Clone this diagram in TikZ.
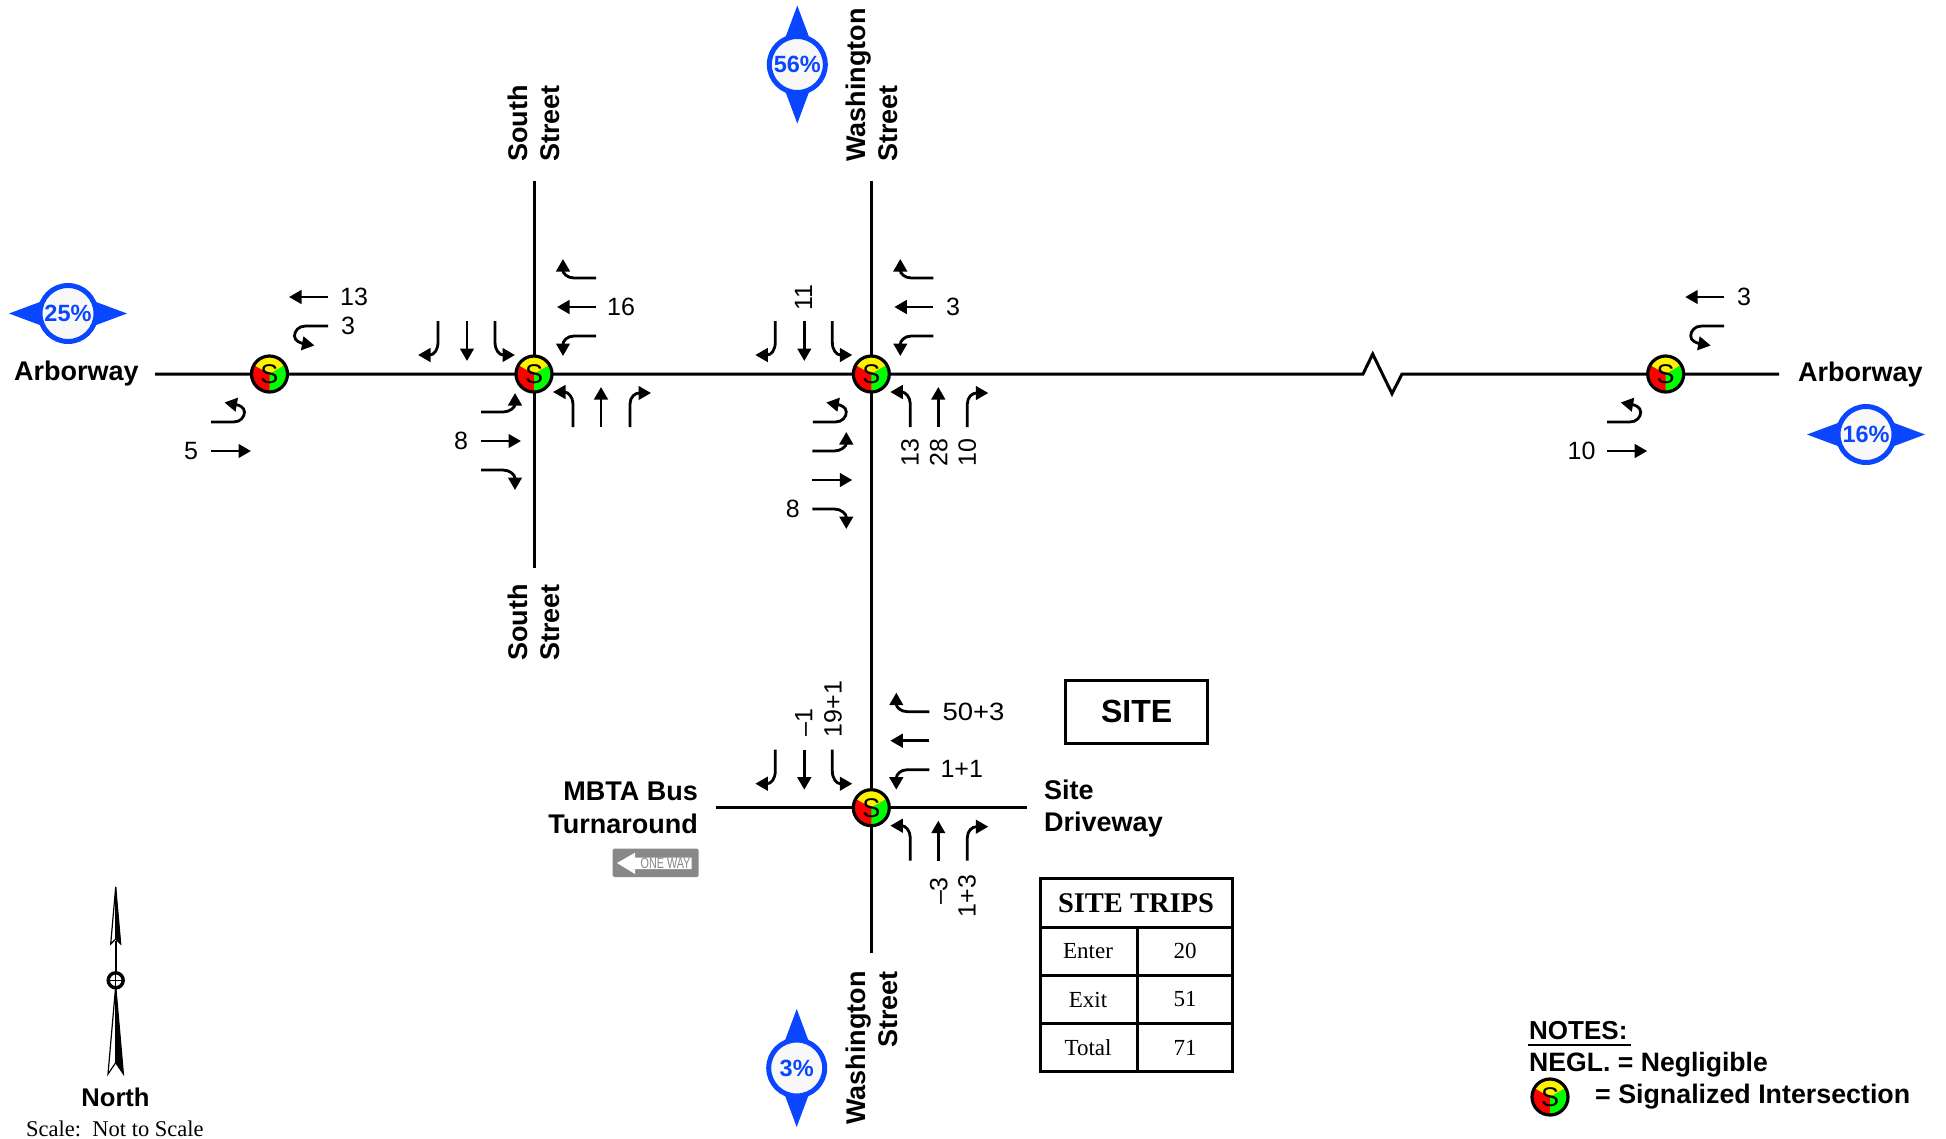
\documentclass[tikz,border=0pt]{standalone}
\usepackage{fontspec}
\setmainfont{Liberation Sans}
\newfontfamily\tmsfont{Liberation Serif}
\usetikzlibrary{arrows.meta}
\definecolor{pctblue}{HTML}{0A46FF}
\definecolor{pctfill}{HTML}{F8F8F8}
\definecolor{signgrey}{HTML}{888888}
\newcommand{\fsz}[1]{\fontsize{#1}{#1}\selectfont}
\tikzset{
  road/.style={line width=3pt,black},
  mv/.style={line width=2.8pt,black,-{Triangle[length=12.5pt,width=13.5pt]}},
  num/.style={inner sep=0pt,font=\fsz{25}},
  numv/.style={num,rotate=90},
  lbl/.style={inner sep=0pt,font=\fsz{27}\bfseries,anchor=base west},
  lblr/.style={inner sep=0pt,font=\fsz{27}\bfseries,anchor=base east},
  lblv/.style={inner sep=0pt,font=\fsz{27}\bfseries,anchor=base west,rotate=90},
  lblve/.style={inner sep=0pt,font=\fsz{27}\bfseries,anchor=base east,rotate=90},
  pct/.style={inner sep=0pt,font=\fsz{23.5}\bfseries,text=pctblue},
  cell/.style={inner sep=0pt,font=\tmsfont\fsz{23}},
  tline/.style={line width=3pt,black},
}
% turning-movement arrows, relative to the current scope origin
\newcommand{\eastApp}{%
  \draw[mv] (62,-96) -- (40,-96) .. controls (33,-96) and (29,-101) .. (29,-115);
  \draw[mv] (62,-67) -- (23,-67);
  \draw[mv] (62,-38) -- (40,-38) .. controls (33,-38) and (29,-33) .. (29,-18);}
\newcommand{\northApp}{%
  \draw[mv] (-96,-53) -- (-96,-32) .. controls (-96,-24) and (-100,-19) .. (-116,-19);
  \draw[mv] (-67,-53) -- (-67,-13);
  \draw[mv] (-39,-53) -- (-39,-32) .. controls (-39,-24) and (-35,-19) .. (-19,-19);}
\newcommand{\southApp}{%
  \draw[mv] (39,53) -- (39,30) .. controls (39,23) and (34,18) .. (19,18);
  \draw[mv] (67,53) -- (67,13);
  \draw[mv] (96,53) -- (96,30) .. controls (96,23) and (101,19) .. (117,19);}
\newcommand{\westApp}{%
  \draw[mv] (-53,38) -- (-31,38) .. controls (-24,38) and (-19,33) .. (-19,19);
  \draw[mv] (-53,67) -- (-13,67);
  \draw[mv] (-53,96) -- (-31,96) .. controls (-24,96) and (-19,101) .. (-19,116);}
\newcommand{\eastU}{%
  \draw[mv] (58.5,-48) -- (36,-48) .. controls (29,-48) and (25,-43) .. (25,-38) .. controls (25,-33) and (31,-31) .. (45,-28.5);}
\newcommand{\westU}{%
  \draw[mv] (-58.5,48) -- (-36,48) .. controls (-29,48) and (-25,43) .. (-25,38) .. controls (-25,33) and (-31,31) .. (-45,28.5);}
% signal symbol
\newcommand{\signal}[3]{%
  \begin{scope}[shift={(#2,#3)}]
    \begin{scope}
      \clip (0,0) circle (18);
      \fill[red] (-20,-20) rectangle (20,20);
      \fill[yellow] (0,0) -- (30,-17.3) -- (30,-30) -- (-30,-30) -- (-30,-17.3) -- cycle;
      \fill[green] (0,0) -- (30,-17.3) -- (30,30) -- (0,30) -- cycle;
    \end{scope}
    \draw[line width=3.2pt] (0,0) circle (18);
    \node[inner sep=0pt,font=\fsz{27}] (#1) at (0,0) {S};
  \end{scope}}
% percent roundel; #4 = 0 for left/right points, 90 for up/down points
\newcommand{\roundel}[5]{%
  \begin{scope}[shift={(#2,#3)},rotate=#4]
    \fill[pctblue] (-59,0) -- (0,-22) -- (59,0) -- (0,22) -- cycle;
  \end{scope}
  \filldraw[fill=pctfill,draw=pctblue,line width=5pt] (#2,#3) circle (28);
  \node[pct] (#1) at (#2,#3) {#5};}
\begin{document}
\begin{tikzpicture}[x=1pt,y=-1pt]
\useasboundingbox (0,0) rectangle (1946,1138);
\begin{scope}[yshift=-1pt]
% junctions and road ends
\coordinate (J1) at (269.5,373);
\coordinate (J2) at (534,373);
\coordinate (J3) at (871.3,373);
\coordinate (J4) at (1665.7,373);
\coordinate (J5) at (871.3,806.7);
\coordinate (AW) at (155,373);
\coordinate (AE) at (1779,373);
\coordinate (BA) at (1363,373);
\coordinate (BB) at (1372.7,353);
\coordinate (BC) at (1392,392.7);
\coordinate (BD) at (1402,373);
\coordinate (SSN) at (534,180);
\coordinate (SSS) at (534,567);
\coordinate (WSN) at (871.3,180);
\coordinate (WSS) at (871.3,952);
\coordinate (MB) at (716,806.7);
\coordinate (SD) at (1027,806.7);
% roads
\draw[road] (AW) -- (J1) -- (J2) -- (J3) -- (BA) -- (BB) -- (BC) -- (BD) -- (J4) -- (AE);
\draw[road] (SSN) -- (J2) -- (SSS);
\draw[road] (WSN) -- (J3) -- (J5) -- (WSS);
\draw[road] (MB) -- (J5) -- (SD);
% signals
\signal{s1}{269.5}{373}
\signal{s2}{534}{373}
\signal{s3}{871.3}{373}
\signal{s4}{1665.7}{373}
\signal{s5}{871.3}{806.7}
\signal{s6}{1550}{1096}
% movements
\begin{scope}[shift={(269.5,373)}]
  \draw[mv] (58.5,-77) -- (19.5,-77);
  \eastU \westU
  \draw[mv] (-58.5,77) -- (-18.5,77);
\end{scope}
\begin{scope}[shift={(534,373)}]
  \eastApp \northApp \southApp \westApp
\end{scope}
\begin{scope}[shift={(871.3,373)}]
  \eastApp \northApp \southApp \westU
\end{scope}
\begin{scope}[shift={(865.3,412)}]
  \westApp
\end{scope}
\begin{scope}[shift={(1665.7,373)}]
  \draw[mv] (58.5,-77) -- (19.5,-77);
  \eastU \westU
  \draw[mv] (-58.5,77) -- (-18.5,77);
\end{scope}
\begin{scope}[shift={(867.3,806.7)}]
  \eastApp
\end{scope}
\begin{scope}[shift={(871.3,801.7)}]
  \northApp
\end{scope}
\begin{scope}[shift={(871.3,806.7)}]
  \southApp
\end{scope}
% volumes
\node[num] (n13a) at (354,295.7) {13};
\node[num] (n3a) at (348,325) {3};
\node[num] (n5) at (191,450) {5};
\node[num] (n16) at (621,305.7) {16};
\node[num] (n8a) at (461,440) {8};
\node[numv] (n11) at (803.6,297) {11};
\node[num] (n3b) at (953,305.7) {3};
\node[numv] (n13b) at (910,451.7) {13};
\node[numv] (n28) at (938.7,451.7) {28};
\node[numv] (n10a) at (967.3,451.7) {10};
\node[num] (n8b) at (792.7,507.7) {8};
\node[num] (n3c) at (1744,295.7) {3};
\node[num] (n10b) at (1581.5,450) {10};
\node[num,xscale=1.1] (n53) at (973.5,710.7) {50+3};
\node[num] (n11b) at (961.7,768) {1+1};
\node[numv] (nm1) at (803.7,721.7) {–1};
\node[numv] (n191) at (833,708) {19+1};
\node[numv] (nm3) at (938.7,890) {–3};
\node[numv] (n13c) at (967,895) {1+3};
% street names
\node[lbl] (aw1) at (14,379) {Arborway};
\node[lbl] (aw2) at (1798,380) {Arborway};
\node[lblv] (ss1) at (527.5,161) {South};
\node[lblv] (ss2) at (559.5,161) {Street};
\node[lblv] (ss3) at (527.5,660) {South};
\node[lblv] (ss4) at (559.5,660) {Street};
\node[lblv] (ws1) at (865,161) {Washington};
\node[lblv] (ws2) at (897,161) {Street};
\node[lblve] (ws3) at (865,970) {Washington};
\node[lblve] (ws4) at (897,970) {Street};
\node[lblr] (mb1) at (698,799) {MBTA Bus};
\node[lblr] (mb2) at (698,832) {Turnaround};
\node[lbl] (sd1) at (1044,798.5) {Site};
\node[lbl] (sd2) at (1044,830.5) {Driveway};
% percent roundels
\roundel{p25}{68}{312.5}{0}{25\%}
\roundel{p16}{1866}{433.5}{0}{16\%}
\roundel{p56}{797.3}{63.5}{90}{56\%}
\roundel{p3}{796.7}{1067}{90}{3\%}
% site box
\node[draw,line width=3pt,minimum width=141.5pt,minimum height=63pt,inner sep=0pt,font=\fsz{32}\bfseries] (site) at (1136.7,710.5) {SITE};
% one-way sign
\fill[signgrey,rounded corners=1.5pt] (612.7,847.7) rectangle (698.7,876);
\fill[white] (617,862) -- (635,851.7) -- (635,856.7) -- (691.7,856.7) -- (691.7,868) -- (635,868) -- (635,873) -- cycle;
\node[inner sep=0pt,font=\fsz{15},text=signgrey,xscale=0.72] (oneway) at (665.5,862.3) {ONE WAY};
% table
\draw[tline] (1040,877) rectangle (1232,1070);
\draw[tline] (1040,926) -- (1232,926);
\draw[tline] (1040,974) -- (1232,974);
\draw[tline] (1040,1022.5) -- (1232,1022.5);
\draw[tline] (1137,926) -- (1137,1070);
\node[inner sep=0pt,font=\tmsfont\fsz{28.5}\bfseries] (th) at (1136,902) {SITE TRIPS};
\node[cell] (t1) at (1088,950) {Enter};
\node[cell] (t2) at (1185,950) {20};
\node[cell] (t3) at (1088,998.5) {Exit};
\node[cell] (t4) at (1185,998.5) {51};
\node[cell] (t5) at (1088,1046.5) {Total};
\node[cell] (t6) at (1185,1046.5) {71};
% north arrow
\fill[white,draw=black,line width=1.2pt] (115.7,886) -- (110.7,943) -- (115.7,938) -- cycle;
\fill[black,draw=black,line width=1.2pt] (115.7,886) -- (120.7,943) -- (115.7,938) -- cycle;
\draw[line width=2pt] (115.7,940) -- (115.7,985);
\fill[white,draw=black,line width=1.2pt] (115.7,985) -- (108,1073) -- (115.7,1061.7) -- cycle;
\fill[black,draw=black,line width=1.2pt] (115.7,985) -- (123.4,1073) -- (115.7,1061.7) -- cycle;
\filldraw[fill=white,draw=black,line width=3.4pt] (115.7,979.3) circle (7.5);
\draw[line width=1.4pt] (107.7,979.3) -- (123.7,979.3) (115.7,971.3) -- (115.7,987.3);
\node[inner sep=0pt,anchor=base,font=\fsz{25.6}\bfseries] (north) at (115.5,1105) {North};
\node[inner sep=0pt,anchor=base west,font=\tmsfont\fsz{22.5}] (scale) at (26,1135) {Scale:\ \ Not to Scale};
% notes
\node[inner sep=0pt,anchor=base west,font=\fsz{26}\bfseries] (notes) at (1529,1038) {NOTES:};
\draw[line width=2.5pt] (1528,1044) -- (1631,1044);
\node[inner sep=0pt,anchor=base west,font=\fsz{26.6}\bfseries] (neg) at (1529,1070) {NEGL. = Negligible};
\node[inner sep=0pt,anchor=base west,font=\fsz{26.8}\bfseries] (sig) at (1595,1102.7) {= Signalized Intersection};
\end{scope}
\end{tikzpicture}
\end{document}
